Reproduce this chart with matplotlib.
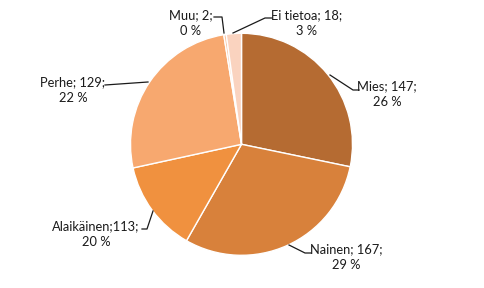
import matplotlib
matplotlib.use("Agg")
import matplotlib.pyplot as plt

categories = ["Mies", "Nainen", "Alaikäinen", "Perhe", "Muu", "Ei tietoa"]
counts = [147, 167, 113, 129, 2, 18]
percent_labels = ["26 %", "29 %", "20 %", "22 %", "0 %", "3 %"]
# slice sizes as drawn in the picture (degrees of arc)
slice_sizes = [101.7, 108.0, 48.0, 93.1, 1.3, 7.9]
colors = ["#B56B32", "#D8813B", "#F0913F", "#F7A86F", "#F8C3A0", "#FAD3BF"]

W, H = 485, 288
fig = plt.figure(figsize=(W / 100, H / 100), dpi=100)
ax = fig.add_axes([0, 0, 1, 1])
ax.set_xlim(0, W)
ax.set_ylim(0, H)
ax.set_aspect("equal")
ax.axis("off")

cx, cy, r = 241.5, H - 144.3, 111
ax.pie(slice_sizes, colors=colors, startangle=90, counterclock=False,
       center=(cx, cy), radius=r, frame=True,
       wedgeprops=dict(edgecolor="white", linewidth=1.0))
ax.set_xlim(0, W)
ax.set_ylim(0, H)
ax.axis("off")

font = "Lato"
fs = 9.3

# label layout: (text center x, first line y) in pixel coords, leader points
label_pos = {
    "Mies": (387, 86, "center", [(359, 90), (353, 90), (330, 75)]),
    "Nainen": (346, 249, "center", [(311, 253), (305, 253), (289, 245)]),
    "Alaikäinen": (96, 226, "center", [(142, 229), (147, 229), (153, 211)]),
    "Perhe": (73, 82, "center", [(105, 85), (148, 82)]),
    "Muu": (191, 15, "center", [(214, 17), (222, 17), (224, 33)]),
    "Ei tietoa": (307, 15, "center", [(272, 18), (265, 18), (233, 33)]),
}

for cat, cnt, pct in zip(categories, counts, percent_labels):
    x, y, ha, pts = label_pos[cat]
    sep = ";" if cat == "Alaikäinen" else "; "
    ax.text(x, H - y, f"{cat}{sep}{cnt};", ha=ha, va="center",
            fontsize=fs, family=font, color="#1a1a1a")
    ax.text(x, H - y - 16, pct, ha=ha, va="center",
            fontsize=fs, family=font, color="#1a1a1a")
    ax.plot([p[0] for p in pts], [H - p[1] for p in pts],
            color="#1a1a1a", linewidth=0.9)

fig.savefig("out.png", dpi=100, facecolor="white")
